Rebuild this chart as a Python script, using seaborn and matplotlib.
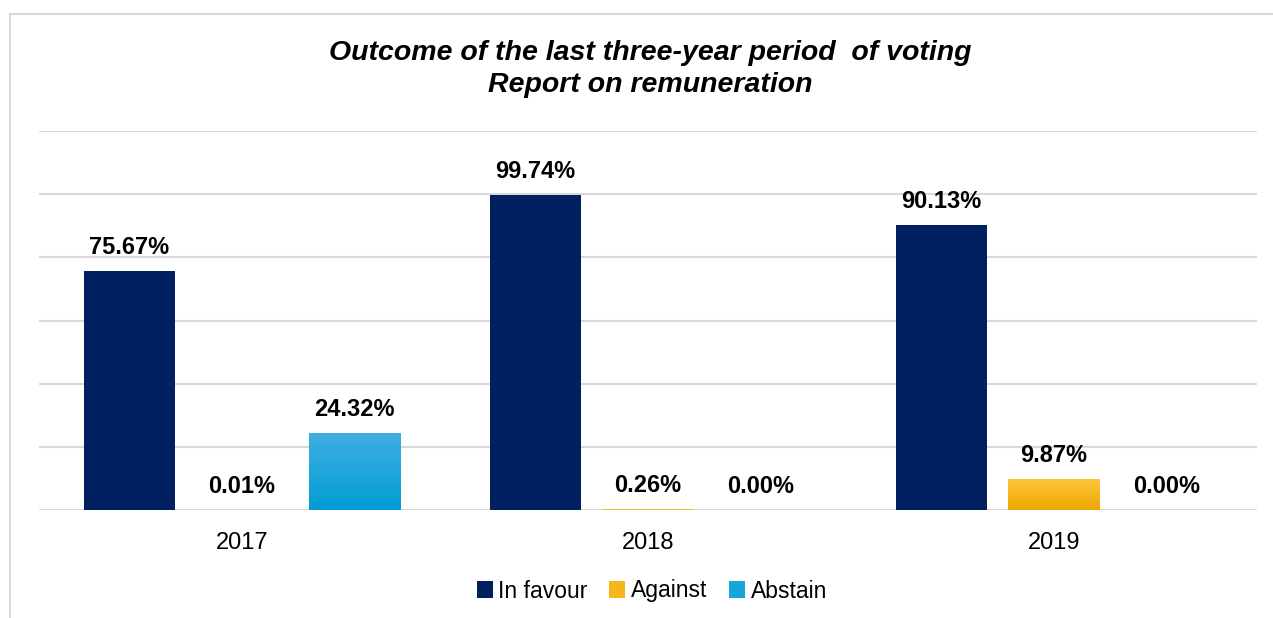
import numpy as np
import pandas as pd
import matplotlib
matplotlib.use("Agg")
import matplotlib.pyplot as plt
import matplotlib.colors as mcolors
from matplotlib.patches import Rectangle
import seaborn as sns

# Voting results, percentage of votes cast
years = ["2017", "2018", "2019"]
series = ["In favour", "Against", "Abstain"]
in_favour = [75.67, 99.74, 90.13]
against = [0.01, 0.26, 9.87]
abstain = [24.32, 0.00, 0.00]

colors = {"In favour": "#002060", "Against": "#F7B51C", "Abstain": "#16A6DB"}
gradients = {
    "Against": ("#FFC540", "#EEA700"),
    "Abstain": ("#41AEE0", "#009DD4"),
}

df = pd.DataFrame({
    "year": np.repeat(years, len(series)),
    "series": series * len(years),
    "value": [v for trio in zip(in_favour, against, abstain) for v in trio],
})

sns.set_theme(style="white")
plt.rcParams["font.family"] = ["Liberation Sans", "DejaVu Sans"]
plt.rcParams["text.color"] = "#000000"
plt.rcParams["xtick.color"] = "#000000"
plt.rcParams["legend.labelcolor"] = "#000000"

W, H = 1273, 618
fig = plt.figure(figsize=(W / 100, H / 100), dpi=100)
ax = fig.add_axes([39 / W, (H - 510) / H, (1257 - 39) / W, (510 - 131) / H])

sns.barplot(data=df, x="year", y="value", hue="series", hue_order=series,
            order=years, palette=colors, width=0.831, gap=0.19,
            saturation=1, ax=ax, legend=True, linewidth=0, zorder=3)

ax.set_ylim(0, 120)
ax.set_yticks(np.arange(0, 121, 20))
ax.yaxis.grid(True, color="#D9D9D9", linewidth=1.5, zorder=0)
ax.set_axisbelow(True)
ax.tick_params(axis="y", left=False, labelleft=False)
ax.tick_params(axis="x", bottom=False, labelsize=17, pad=10,
               labelcolor="#000000")
ax.set_xlabel("")
ax.set_ylabel("")
for s in ax.spines.values():
    s.set_visible(False)

# Vertical gradient fill for the lighter series, plus value labels
for container, name in zip(ax.containers, series):
    values = df[df["series"] == name].set_index("year").loc[years, "value"]
    for bar, value in zip(container, values):
        x0, y0 = bar.get_x(), bar.get_y()
        w, h = bar.get_width(), bar.get_height()
        if name in gradients and h > 0:
            cmap = mcolors.LinearSegmentedColormap.from_list(
                name, [gradients[name][1], gradients[name][0]])
            grad = np.linspace(0, 1, 256).reshape(-1, 1)
            im = ax.imshow(grad, cmap=cmap, origin="lower", aspect="auto",
                           extent=(x0, x0 + w, y0, y0 + h), zorder=4)
            im.set_clip_path(bar)
        ax.annotate(f"{value:.2f}%", (x0 + w / 2, y0 + h),
                    xytext=(0, 17), textcoords="offset points",
                    ha="center", va="center", fontsize=17,
                    fontweight="bold", color="#000000", zorder=5)

ax.set_xlim(-0.5, 2.5)
ax.set_ylim(0, 120)

handles, labels = ax.get_legend_handles_labels()
ax.get_legend().remove()
fig.legend(handles, labels, loc="center", ncol=3,
           bbox_to_anchor=(652 / W, 1 - 591 / H), frameon=False,
           fontsize=16.5, handlelength=0.7, handleheight=0.7,
           handletextpad=0.25, columnspacing=0.95, labelcolor="#000000")

title_kw = dict(ha="center", va="center", fontsize=20.5, fontweight="bold",
                fontstyle="italic", color="#000000")
fig.text(650 / W, 1 - 53 / H,
         "Outcome of the last three-year period  of voting", **title_kw)
fig.text(650 / W, 1 - 85 / H, "Report on remuneration", **title_kw)

# Outer frame of the chart area
fig.patches.append(Rectangle((9.5 / W, -0.1), 1.2, 1 - 14 / H + 0.1,
                             transform=fig.transFigure, fill=False,
                             edgecolor="#D9D9D9", linewidth=1.5))

fig.savefig("out.png", dpi=100)
